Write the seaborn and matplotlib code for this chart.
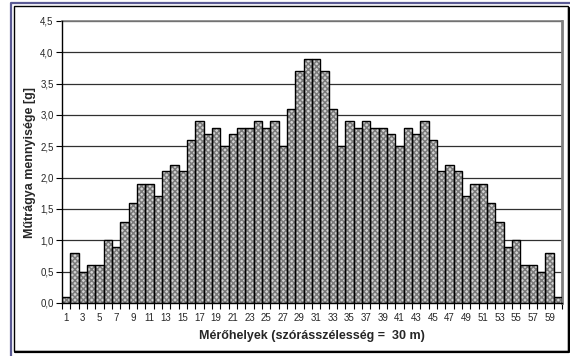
import matplotlib
matplotlib.use("Agg")
import matplotlib.pyplot as plt
from matplotlib.patches import Rectangle
from matplotlib.lines import Line2D
import numpy as np
import pandas as pd
import seaborn as sns

# Measuring points across the spread width and collected fertilizer mass
positions = [str(i) for i in range(1, 61)]
amounts = [0.1, 0.8, 0.5, 0.6, 0.6, 1.0, 0.9, 1.3, 1.6, 1.9,
           1.9, 1.7, 2.1, 2.2, 2.1, 2.6, 2.9, 2.7, 2.8, 2.5,
           2.7, 2.8, 2.8, 2.9, 2.8, 2.9, 2.5, 3.1, 3.7, 3.9,
           3.9, 3.7, 3.1, 2.5, 2.9, 2.8, 2.9, 2.8, 2.8, 2.7,
           2.5, 2.8, 2.7, 2.9, 2.6, 2.1, 2.2, 2.1, 1.7, 1.9,
           1.9, 1.6, 1.3, 0.9, 1.0, 0.6, 0.6, 0.5, 0.8, 0.1]
y_ticks = [0.0, 0.5, 1.0, 1.5, 2.0, 2.5, 3.0, 3.5, 4.0, 4.5]
x_title = "Mérőhelyek (szórásszélesség =  30 m)"
y_title = "Műtrágya mennyisége [g]"

sns.set_theme(style="white")
plt.rcParams["font.family"] = ["Liberation Sans", "DejaVu Sans"]
plt.rcParams["hatch.linewidth"] = 1.1

W, H = 570, 356
fig = plt.figure(figsize=(W / 100, H / 100), dpi=100)
fig.patch.set_facecolor("white")

left, right, top, bottom = 62, 562, 21, 303
ax = fig.add_axes([left / W, 1 - bottom / H, (right - left) / W, (bottom - top) / H])
ax.set_facecolor("white")

df = pd.DataFrame({"pos": positions, "amount": amounts})

# Patterned fill
sns.barplot(data=df, x="pos", y="amount", order=positions, width=1.0,
            color="#d2d2d2", saturation=1, errorbar=None, ax=ax, zorder=2)
for p in ax.patches:
    p.set_hatch("xxxxxx")
    p.set_edgecolor("#7a7a7a")
    p.set_linewidth(0)
# Black outlines
sns.barplot(data=df, x="pos", y="amount", order=positions, width=1.0,
            fill=False, color="black", linewidth=1.0, errorbar=None, ax=ax, zorder=3)

ax.set_xlim(-0.5, len(positions) - 0.5)
ax.set_ylim(0, 4.5)
ax.set_yticks(y_ticks)
ax.set_yticklabels([f"{v:.1f}".replace(".", ",") for v in y_ticks], fontsize=7)
ax.yaxis.grid(True, color="#303030", linewidth=0.9, zorder=0)
ax.set_axisbelow(True)

major = list(range(0, len(positions), 2))
ax.set_xticks(major)
ax.set_xticklabels([positions[i] for i in major], fontsize=7)
ax.set_xticks(np.arange(-0.5, len(positions), 1.0), minor=True)
ax.tick_params(axis="x", which="major", length=0, pad=7)
ax.tick_params(axis="x", which="minor", length=4, width=0.8, color="black", direction="out", bottom=True)
ax.tick_params(axis="y", length=4, width=0.8, color="black", direction="out", left=True, pad=2)

for side in ("left", "bottom"):
    ax.spines[side].set_color("black")
    ax.spines[side].set_linewidth(1.0)
    ax.spines[side].set_zorder(5)
ax.spines["top"].set_color("#808080")
ax.spines["top"].set_linewidth(1.2)
ax.spines["right"].set_color("#808080")
ax.spines["right"].set_linewidth(2.0)

ax.set_xlabel(x_title, fontsize=9, fontweight="bold")
ax.set_ylabel(y_title, fontsize=9, fontweight="bold")
ax.xaxis.set_label_coords(0.5, -(336 - bottom) / (bottom - top))
ax.yaxis.set_label_coords(-(left - 30) / (right - left), 0.5)
ax.xaxis.label.set_va("center")
ax.yaxis.label.set_va("center")

# Chart frame: page border line and chart border with shadow
def px(x, y):
    return x / W, 1 - y / H

fig.add_artist(Line2D([px(11, 0)[0], px(11, 0)[0], 1.0],
                      [px(0, 356)[1], px(0, 3)[1], px(0, 3)[1]],
                      color="#5b5b94", linewidth=1.6, transform=fig.transFigure))
fig.add_artist(Rectangle(px(14, 351), (568 - 14) / W, (351 - 6) / H,
                         fill=False, edgecolor="black", linewidth=1.0,
                         transform=fig.transFigure))
fig.add_artist(Line2D([px(15, 0)[0], px(569, 0)[0], px(569, 0)[0]],
                      [px(0, 352)[1], px(0, 352)[1], px(0, 8)[1]],
                      color="black", linewidth=1.6, transform=fig.transFigure))

fig.savefig("out.png", dpi=100, facecolor="white")
